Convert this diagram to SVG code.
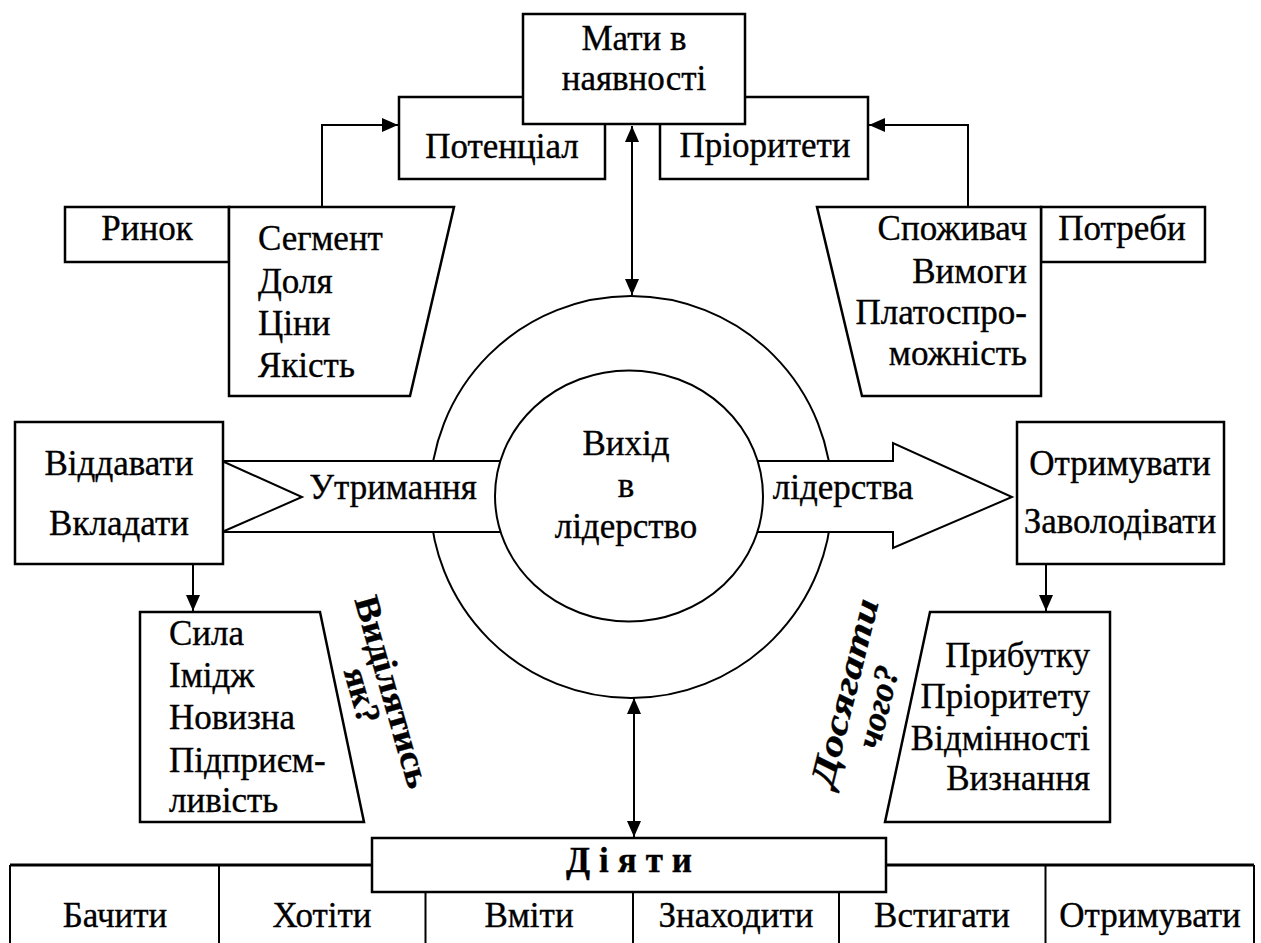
<svg xmlns="http://www.w3.org/2000/svg" width="1261" height="943" viewBox="0 0 1261 943">
<defs>
<style>
.b{fill:#fff;stroke:#000;stroke-width:2.5}
.c{fill:#fff;stroke:#000;stroke-width:2}
.t{font-family:"Liberation Serif","Times New Roman",serif;font-size:35px;fill:#000;stroke:#000;stroke-width:0.35}
.m{text-anchor:middle}
.e{text-anchor:end}
.ln{fill:none;stroke:#000;stroke-width:2}
.bd{font-weight:bold}
.bi{font-weight:bold;font-style:italic}
</style>
<marker id="ah" viewBox="0 0 16 14" refX="16" refY="7" markerWidth="16" markerHeight="14" markerUnits="userSpaceOnUse" orient="auto-start-reverse"><path d="M0,0 L16,7 L0,14 Z" fill="#000"/></marker>
</defs>
<rect width="1261" height="943" fill="#fff"/>

<g id="potential">
<rect class="b" x="399" y="97" width="206" height="82"/>
<text class="t m" x="502" y="158">Потенціал</text>
</g>
<g id="priorities">
<rect class="b" x="660" y="97" width="208" height="82"/>
<text class="t m" x="765" y="157">Пріоритети</text>
</g>
<g id="have">
<rect class="b" x="523" y="14" width="222" height="110"/>
<text class="t m" x="634" y="50">Мати в</text>
<text class="t m" x="634" y="90">наявності</text>
</g>

<g id="market">
<rect class="b" x="65" y="207" width="164" height="55"/>
<text class="t m" x="147" y="240">Ринок</text>
</g>
<g id="market-list">
<polygon class="b" points="229,207 454,207 410,396 229,396"/>
<text class="t" x="258" y="250">Сегмент</text>
<text class="t" x="258" y="293">Доля</text>
<text class="t" x="258" y="335">Ціни</text>
<text class="t" x="258" y="377">Якість</text>
</g>

<g id="needs">
<rect class="b" x="1041" y="207" width="164" height="55"/>
<text class="t m" x="1122" y="240">Потреби</text>
</g>
<g id="consumer-list">
<polygon class="b" points="817,207 1041,207 1041,396 862,396"/>
<text class="t e" x="1027" y="240">Споживач</text>
<text class="t e" x="1027" y="283">Вимоги</text>
<text class="t e" x="1027" y="324">Платоспро-</text>
<text class="t e" x="1027" y="365">можність</text>
</g>

<g id="center">
<circle class="c" cx="631" cy="497" r="201"/>
<polygon class="c" points="222,461 893,461 893,443 1012,497 893,548 893,532 222,532 302,497"/>
<text class="t m" x="393" y="499">Утримання</text>
<text class="t m" x="843" y="499">лідерства</text>
<ellipse class="c" cx="629" cy="496" rx="134" ry="125.5"/>
<text class="t m" x="626" y="455">Вихід</text>
<text class="t m" x="626" y="497">в</text>
<text class="t m" x="626" y="538">лідерство</text>
</g>

<g id="give">
<rect class="b" x="15" y="422" width="208" height="142"/>
<text class="t m" x="119" y="475">Віддавати</text>
<text class="t m" x="119" y="535">Вкладати</text>
</g>
<g id="get">
<rect class="b" x="1017" y="422" width="207" height="142"/>
<text class="t m" x="1120" y="475">Отримувати</text>
<text class="t m" x="1120" y="533">Заволодівати</text>
</g>

<g id="strength-list">
<polygon class="b" points="140,612 320,612 364,822 140,822"/>
<text class="t" x="169" y="645">Сила</text>
<text class="t" x="169" y="687">Імідж</text>
<text class="t" x="169" y="729">Новизна</text>
<text class="t" x="169" y="772">Підприєм-</text>
<text class="t" x="169" y="812">ливість</text>
</g>
<g id="profit-list">
<polygon class="b" points="930,612 1110,612 1110,822 885,822"/>
<text class="t e" x="1090" y="667">Прибутку</text>
<text class="t e" x="1090" y="708">Пріоритету</text>
<text class="t e" x="1090" y="750">Відмінності</text>
<text class="t e" x="1090" y="790">Визнання</text>
</g>

<g id="how" transform="translate(392,692) rotate(74)">
<text class="t m bd" x="0" y="11" font-size="37" textLength="198" lengthAdjust="spacingAndGlyphs">Виділятись</text>
<text class="t m bd" x="-5" y="41" font-size="37">як?</text>
</g>
<g id="what" transform="translate(843,692) rotate(-76)">
<text class="t m bi" x="0" y="13" font-size="42" textLength="192" lengthAdjust="spacingAndGlyphs">Досягати</text>
<text class="t m bi" x="-6" y="49" font-size="42">чого?</text>
</g>

<g id="table">
<path d="M10,865 H1254" fill="none" stroke="#000" stroke-width="3"/>
<path class="ln" d="M10,865 V950 M219,865 V950 M425.5,865 V950 M633,865 V950 M839,865 V950 M1045.5,865 V950 M1254,865 V950"/>
<text class="t m" x="115" y="927">Бачити</text>
<text class="t m" x="322" y="927">Хотіти</text>
<text class="t m" x="529" y="927">Вміти</text>
<text class="t m" x="736" y="927">Знаходити</text>
<text class="t m" x="942" y="927">Встигати</text>
<text class="t m" x="1150" y="927">Отримувати</text>
</g>
<g id="act">
<rect class="b" x="372" y="838" width="514" height="54"/>
<text class="t m bd" x="633.5" y="872" font-size="26" letter-spacing="9">Діяти</text>
</g>

<g id="connectors">
<path class="ln" d="M322,207 V125 H398" marker-end="url(#ah)"/>
<path class="ln" d="M968,207 V125 H869" marker-end="url(#ah)"/>
<path class="ln" d="M632,126 V295" marker-start="url(#ah)" marker-end="url(#ah)"/>
<path class="ln" d="M634,698 V837" marker-start="url(#ah)" marker-end="url(#ah)"/>
<path class="ln" d="M193,564 V611" marker-end="url(#ah)"/>
<path class="ln" d="M1046,564 V611" marker-end="url(#ah)"/>
</g>
</svg>
